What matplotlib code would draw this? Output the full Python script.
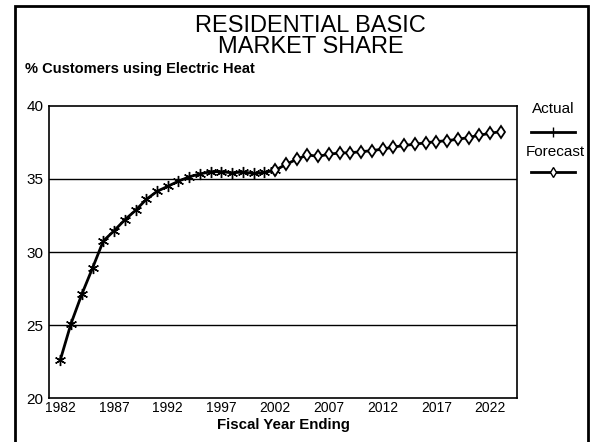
"""Residential basic market share: actual vs forecast electric heat share."""

import matplotlib
matplotlib.use("Agg")
import matplotlib.pyplot as plt
from matplotlib.lines import Line2D
from matplotlib.patches import Rectangle

plt.rcParams["font.family"] = ["Liberation Sans", "DejaVu Sans"]

# actual series, fiscal years 1982-2002
ACT_YEARS = list(range(1982, 2003))
ACT_VALUES = [22.6, 25.1, 27.1, 28.9, 30.75, 31.45, 32.2, 32.85, 33.6, 34.15,
              34.5, 34.85, 35.15, 35.35, 35.5, 35.5, 35.42, 35.48, 35.38, 35.45, 35.6]

# forecast series, fiscal years 2002-2023
FC_YEARS = list(range(2002, 2024))
FC_VALUES = [35.6, 36.0, 36.35, 36.65, 36.55, 36.7, 36.78, 36.8, 36.87, 36.94,
             37.05, 37.18, 37.3, 37.38, 37.48, 37.56, 37.63, 37.72, 37.84, 38.0,
             38.13, 38.25]

XTICKS = list(range(1982, 2023, 5))
YTICKS = [20, 25, 30, 35, 40]

STAR = (6, 2, 0)

fig = plt.figure(figsize=(5.91, 4.42), dpi=100)
ax = fig.add_axes([0.0829, 0.0995, 0.7919, 0.6607])

for y in (25, 30, 35):
    ax.axhline(y, color="black", linewidth=1.0, zorder=1)

ax.plot(ACT_YEARS, ACT_VALUES, color="black", linewidth=2.0, marker=STAR,
        markersize=8, markeredgewidth=1.0, zorder=3)
ax.plot(FC_YEARS, FC_VALUES, color="black", linewidth=2.0, marker="d",
        markersize=6.3, markerfacecolor="white", markeredgecolor="black",
        markeredgewidth=1.3, zorder=3)

ax.set_xlim(1980.95, 2024.5)
ax.set_ylim(20, 40)
ax.set_xticks(XTICKS)
ax.set_yticks(YTICKS)
ax.tick_params(length=0, pad=2)
ax.tick_params(axis="x", labelsize=10)
ax.tick_params(axis="y", labelsize=11, pad=4)
for s in ax.spines.values():
    s.set_color("black")
    s.set_linewidth(1.2)
ax.set_xlabel("Fiscal Year Ending", fontsize=10.8, fontweight="bold", labelpad=2)

fig.text(0.526, 0.918, "RESIDENTIAL BASIC\nMARKET SHARE", ha="center", va="center",
         fontsize=17, linespacing=0.95)
fig.text(0.042, 0.843, "% Customers using Electric Heat", ha="left", va="center",
         fontsize=10.5, fontweight="bold")

# legend drawn by hand at right
fig.text(0.936, 0.753, "Actual", ha="center", va="center", fontsize=11)
fig.add_artist(Line2D([0.898, 0.9355, 0.973], [0.701, 0.701, 0.701], color="black",
                      linewidth=2.0, marker="|", markersize=7, markevery=[1],
                      transform=fig.transFigure))
fig.text(0.939, 0.656, "Forecast", ha="center", va="center", fontsize=11)
fig.add_artist(Line2D([0.898, 0.9355, 0.973], [0.611, 0.611, 0.611], color="black",
                      linewidth=2.0, marker="d", markersize=5, markevery=[1],
                      markerfacecolor="white", transform=fig.transFigure))

# outer frame
fig.add_artist(Rectangle((0.026, -0.01), 0.969, 0.996, fill=False, edgecolor="black",
                         linewidth=2.0, transform=fig.transFigure))

fig.savefig("out.png", dpi=100)
